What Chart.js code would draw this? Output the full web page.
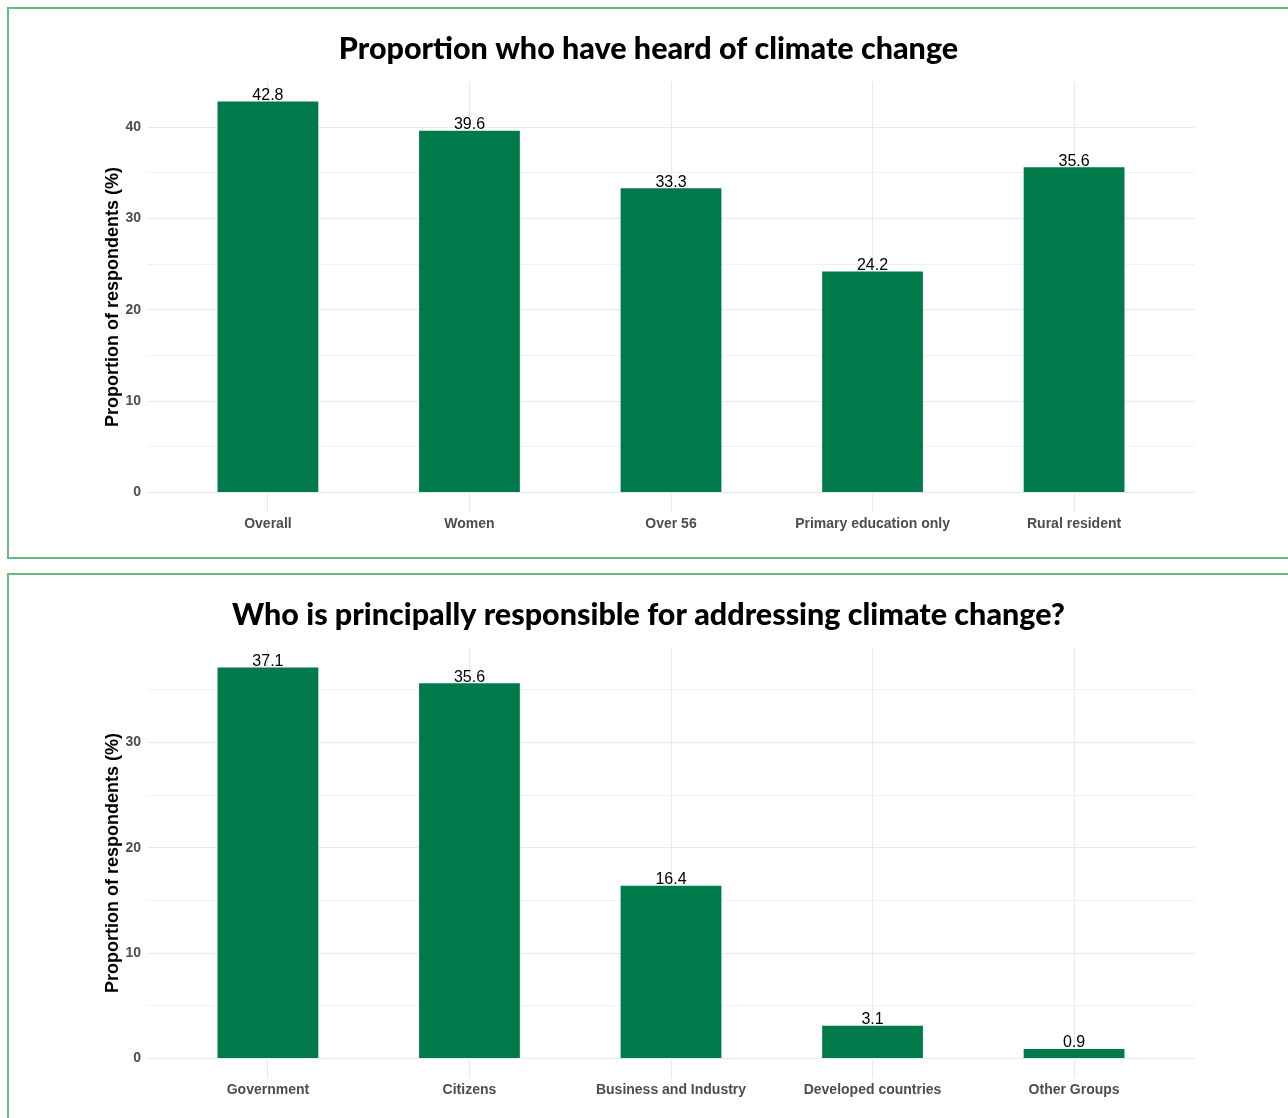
<!DOCTYPE html>
<html>
<head>
<meta charset="utf-8">
<title>Climate change awareness</title>
<script src="https://cdn.jsdelivr.net/npm/chart.js@4/dist/chart.umd.min.js"></script>
<style>
  html, body { margin: 0; padding: 0; background: #ffffff; overflow: hidden; }
  body { width: 1288px; height: 1118px; position: relative; }
  .panel {
    position: absolute;
    left: 7px;
    width: 1300px;
    height: 548px;
    border: 2px solid #66bb80;
    background: #ffffff;
  }
  .panel canvas { position: absolute; left: 0; top: 0; }
  #panel1 { top: 7px; }
  #panel2 { top: 573px; }
</style>
</head>
<body>
<div class="panel" id="panel1"><canvas id="heardChart" width="1279" height="548"></canvas></div>
<div class="panel" id="panel2"><canvas id="respChart" width="1279" height="548"></canvas></div>
<script>
// Proportion who have heard of climate change (%)
const heardCategories = ['Overall', 'Women', 'Over 56', 'Primary education only', 'Rural resident'];
const heardValues = [42.8, 39.6, 33.3, 24.2, 35.6];

// Who is principally responsible for addressing climate change (%)
const respCategories = ['Government', 'Citizens', 'Business and Industry', 'Developed countries', 'Other Groups'];
const respValues = [37.1, 35.6, 16.4, 3.1, 0.9];

// Grid/tick positions on the value axis: labels every 10, light lines every 5
const gridStep = 5;
const labelStep = 10;

const BAR_COLOR = '#00794b';
const GRID_MAJOR = '#e9e9e9';
const GRID_MINOR = '#f1f1f1';
const TICK_COLOR = '#4d4d4d';

Chart.defaults.font.family = '"Liberation Sans", Arial, Helvetica, sans-serif';
Chart.defaults.devicePixelRatio = 1;

// Writes each bar's value just above its top
const valueLabels = {
  id: 'valueLabels',
  afterDatasetsDraw(chart) {
    const ctx = chart.ctx;
    ctx.save();
    ctx.font = '16px "Liberation Sans", Arial, sans-serif';
    ctx.fillStyle = '#000000';
    ctx.textAlign = 'center';
    ctx.textBaseline = 'alphabetic';
    chart.data.datasets.forEach((ds, di) => {
      const meta = chart.getDatasetMeta(di);
      meta.data.forEach((bar, i) => {
        const v = ds.data[i].y;
        ctx.fillText(v.toFixed(1), bar.x, bar.y - 1.5);
      });
    });
    ctx.restore();
  }
};

function makeChart(canvasId, titleText, categories, values) {
  const maxVal = Math.max(...values);
  const yMin = -0.05 * maxVal;
  const yMax = 1.05 * maxVal;
  const points = values.map((v, i) => ({ x: i, y: v }));

  return new Chart(document.getElementById(canvasId), {
    type: 'bar',
    data: {
      datasets: [{
        data: points,
        backgroundColor: BAR_COLOR,
        borderWidth: 0,
        barPercentage: 0.5,
        categoryPercentage: 1.0
      }]
    },
    plugins: [valueLabels],
    options: {
      responsive: false,
      animation: false,
      layout: { padding: { left: 93, right: 93, top: 0, bottom: 0 } },
      plugins: {
        legend: { display: false },
        tooltip: { enabled: false },
        title: {
          display: true,
          text: titleText,
          color: '#000000',
          font: { family: 'Lato, "Open Sans", sans-serif', size: 30.5, weight: 900, lineHeight: 1.2 },
          padding: { top: 22, bottom: 14.4 }
        }
      },
      scales: {
        x: {
          type: 'linear',
          min: -0.6,
          max: categories.length - 1 + 0.6,
          offset: false,
          afterBuildTicks(axis) {
            axis.ticks = categories.map((_, i) => ({ value: i }));
          },
          afterFit(axis) { axis.height = 45; },
          ticks: {
            autoSkip: false,
            maxRotation: 0,
            padding: 4,
            color: TICK_COLOR,
            font: { size: 14, weight: 'bold' },
            callback: (value) => categories[value] ?? ''
          },
          grid: { offset: false, color: GRID_MAJOR, lineWidth: 1, drawTicks: false },
          border: { display: false }
        },
        y: {
          type: 'linear',
          min: yMin,
          max: yMax,
          afterBuildTicks(axis) {
            const t = [];
            for (let v = 0; v <= yMax; v += gridStep) t.push({ value: v });
            axis.ticks = t;
          },
          afterFit(axis) { axis.width = 45; },
          ticks: {
            autoSkip: false,
            padding: 6,
            color: TICK_COLOR,
            font: { size: 14, weight: 'bold' },
            callback: (value) => (value % labelStep === 0 ? String(value) : '')
          },
          grid: {
            drawTicks: false,
            lineWidth: 1,
            color: (c) => (c.tick && c.tick.value % labelStep === 0 ? GRID_MAJOR : GRID_MINOR)
          },
          border: { display: false },
          title: {
            display: true,
            text: 'Proportion of respondents (%)',
            color: '#000000',
            font: { size: 18, weight: 'bold', lineHeight: 1.2 },
            padding: 0
          }
        }
      }
    }
  });
}

makeChart('heardChart', 'Proportion who have heard of climate change', heardCategories, heardValues);
makeChart('respChart', 'Who is principally responsible for addressing climate change?', respCategories, respValues);
</script>
</body>
</html>
